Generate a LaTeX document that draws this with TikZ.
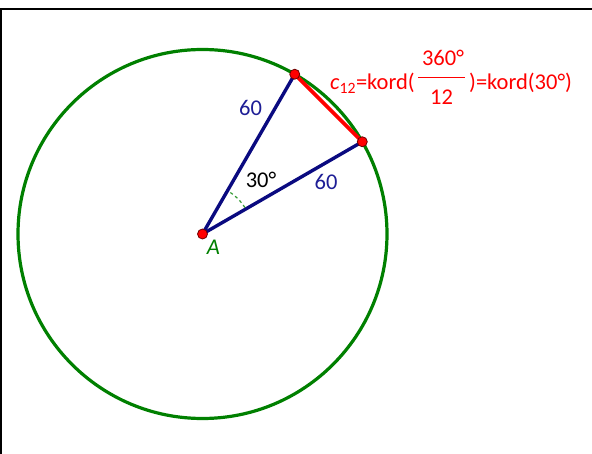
\documentclass[tikz,border=0pt]{standalone}
\usepackage{fontspec}
\setmainfont{Carlito}
\usetikzlibrary{calc}
\definecolor{ggreen}{RGB}{0,128,0}
\definecolor{gblue}{RGB}{10,10,128}
\definecolor{lblue}{RGB}{30,30,150}
\definecolor{gred}{RGB}{255,0,0}
\definecolor{ptedge}{RGB}{110,0,0}
\tikzset{
  lbl/.style={inner sep=0pt, anchor=base, font=\fontsize{22.5}{26}\selectfont},
  pt/.style={circle, fill=gred, draw=ptedge, line width=0.8pt, minimum size=10pt, inner sep=0pt},
  seg/.style={line width=3.4pt, line cap=round},
}
\begin{document}
\begin{tikzpicture}[x=1pt,y=-1pt]
\useasboundingbox (0,0) rectangle (592,454);
\fill[white] (0,0) rectangle (592,454);
\draw[line width=2.2pt] (0,9) -- (592,9);
\draw[line width=2.2pt] (1,9) -- (1,454);
\coordinate (A) at (202.5,234);
\draw[ggreen, line width=3.2pt] (A) circle[radius=184.5];
\coordinate (P) at ($(A)+(-60:184.5)$);
\coordinate (Q) at ($(A)+(-30:184.5)$);
\draw[gblue, seg] (A) -- (P);
\draw[gblue, seg] (A) -- (Q);
\draw[gred, line width=3.6pt] (P) -- (Q);
\draw[ggreen!80!white, dashed, line width=1.2pt] ($(A)+(-32:50)$) arc[start angle=-32, end angle=-58, radius=50];
\node[pt] (a) at (A) {};
\node[pt] (p) at (P) {};
\node[pt] (q) at (Q) {};
\node[lbl, text=lblue] (l1) at (250.5,116) {60};
\node[lbl, text=lblue] (l2) at (326,190) {60};
\node[lbl] (ang) at (261,188) {30°};
\node[lbl, text=ggreen] (la) at (213.5,255) {\itshape A};
\node[lbl, text=gred, anchor=base west] (t1) at (330,90) {\itshape c\upshape\textsubscript{12}=kord(};
\node[lbl, text=gred] (num) at (443,66) {360°};
\node[lbl, text=gred] (den) at (441.5,105) {12};
\draw[gred, line width=1pt] (418,78) coordinate (f1) -- (465,78) coordinate (f2);
\node[lbl, text=gred, anchor=base west] (t2) at (469,90) {)=kord(30°)};
\end{tikzpicture}
\end{document}
